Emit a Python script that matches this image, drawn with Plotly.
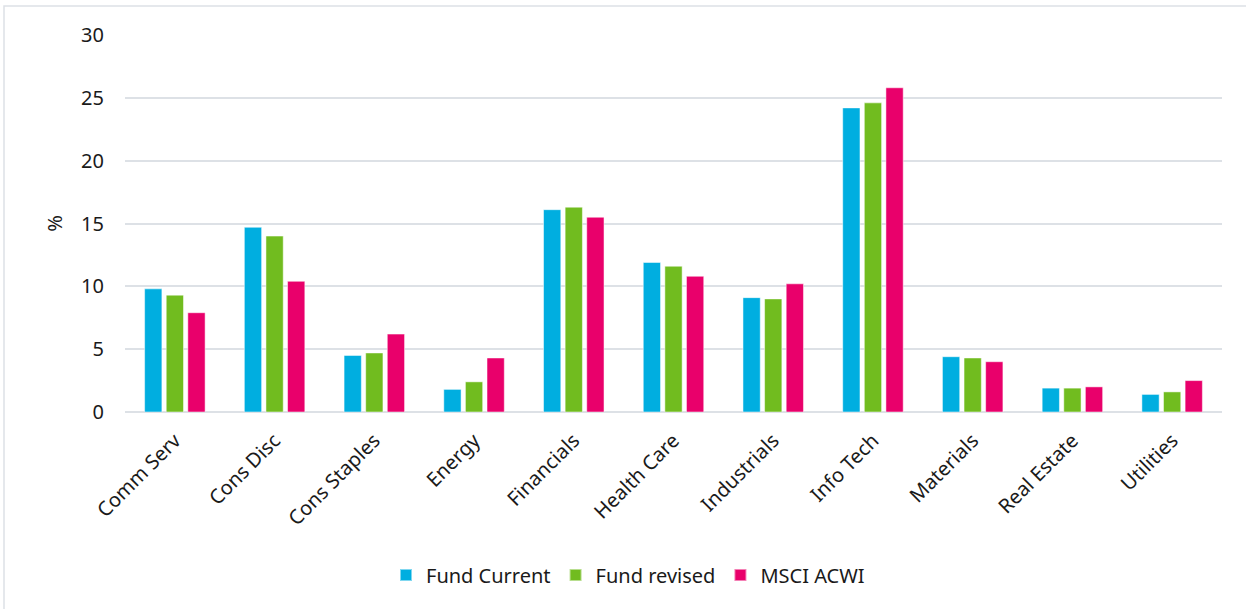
import plotly.graph_objects as go

categories = ["Comm Serv", "Cons Disc", "Cons Staples", "Energy", "Financials",
              "Health Care", "Industrials", "Info Tech", "Materials", "Real Estate", "Utilities"]
fund_current = [9.8, 14.7, 4.5, 1.8, 16.1, 11.9, 9.1, 24.2, 4.4, 1.9, 1.4]
fund_revised = [9.3, 14.0, 4.7, 2.4, 16.3, 11.6, 9.0, 24.6, 4.3, 1.9, 1.6]
msci_acwi = [7.9, 10.4, 6.2, 4.3, 15.5, 10.8, 10.2, 25.8, 4.0, 2.0, 2.5]
y_ticks = [0, 5, 10, 15, 20, 25, 30]

series = [("Fund Current", fund_current, "#00AEE0"),
          ("Fund revised", fund_revised, "#71BC1F"),
          ("MSCI ACWI", msci_acwi, "#E9006B")]

fig = go.Figure()
for name, vals, col in series:
    fig.add_trace(go.Bar(x=categories, y=vals, name=name,
                         marker=dict(color=col, line=dict(color="rgba(255,255,255,0.5)", width=1))))

FONT = "Noto Sans, Open Sans, sans-serif"
TXT = "#1a1a1a"
W, H = 1246, 609
L, R, T, B = 125, 1222, 35, 412
pw, ph = R - L, B - T

def px_x(v):
    return (v - L) / pw

def px_y(v):
    return (B - v) / ph

fig.update_layout(
    width=W, height=H,
    margin=dict(l=L, r=W - R, t=T, b=H - B),
    paper_bgcolor="white", plot_bgcolor="white",
    barmode="group", bargap=0.35, bargroupgap=0.2,
    font=dict(family=FONT, size=20, color=TXT),
    showlegend=True,
    legend=dict(orientation="h", x=px_x(628), y=px_y(575), xanchor="center", yanchor="middle",
                font=dict(size=20, family=FONT, color=TXT), itemsizing="constant",
                traceorder="normal"),
    xaxis=dict(tickangle=-45, showgrid=False, showline=False, ticks="",
               ticklabelstandoff=12,
               tickfont=dict(size=20, family=FONT, color=TXT)),
    yaxis=dict(range=[0, 30], tickvals=y_ticks, showgrid=True, gridcolor="#DDE1E6", gridwidth=1.5,
               zeroline=True, zerolinecolor="#DDE1E6", zerolinewidth=1.5, showline=False, ticks="",
               ticklabelstandoff=20,
               tickfont=dict(size=20, family=FONT, color=TXT),
               title=dict(text="%", font=dict(size=20, family=FONT, color=TXT), standoff=13)),
    shapes=[dict(type="rect", xref="paper", yref="paper",
                 x0=px_x(4), x1=px_x(1252), y0=px_y(615), y1=px_y(6),
                 line=dict(color="#DDE1E6", width=1.5), fillcolor="rgba(0,0,0,0)", layer="below")],
)

fig.write_html("out.html", config={"displayModeBar": False},
               post_script="document.body.style.margin='0';document.body.style.overflow='hidden';")
